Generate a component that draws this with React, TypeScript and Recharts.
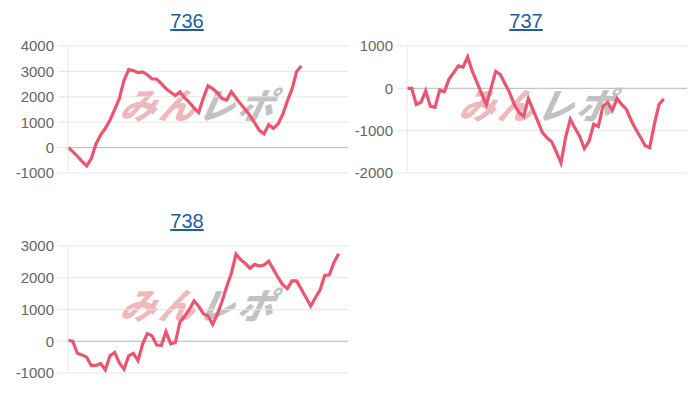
import { LineChart, Line, XAxis, YAxis, CartesianGrid, ReferenceLine } from "recharts";

// machine numbers shown above each chart
const machineNames = ["736", "737", "738"];

// cumulative difference per game slot
const diff736 = [
  0, -150, -340, -540, -720, -430, 150, 500, 760, 1080,
  1500, 1930, 2650, 3070, 3030, 2950, 2980, 2870, 2700, 2700,
  2520, 2320, 2180, 2050, 2190, 1960, 1780, 1560, 1380, 1950,
  2430, 2320, 2160, 1930, 1870, 2200, 1950, 1720, 1500, 1260,
  970, 680, 540, 900, 760, 930, 1300, 1830, 2300, 3000, 3210,
];
const diff737 = [
  0, 0, -380, -330, -60, -420, -450, -40, -80, 220,
  370, 530, 500, 740, 400, 140, -130, -390, 0, 400,
  330, 110, -100, -390, -570, -660, -240, -510, -770, -1040,
  -1170, -1260, -1500, -1760, -1150, -730, -940, -1130, -1420, -1250,
  -850, -900, -420, -330, -520, -240, -380, -490, -750, -960,
  -1150, -1350, -1400, -850, -380, -250,
];
const diff738 = [
  30, 0, -380, -430, -500, -770, -760, -700, -900, -460,
  -350, -680, -880, -460, -380, -610, -80, 240, 170, -120,
  -130, 300, -80, -40, 610, 790, 1000, 1270, 1100, 870,
  800, 530, 850, 1250, 1720, 2140, 2740, 2570, 2450, 2300,
  2420, 2370, 2400, 2520, 2270, 2010, 1780, 1660, 1900, 1900,
  1640, 1380, 1110, 1370, 1610, 2070, 2090, 2480, 2760,
];

// y-axis tick labels
const ticks736 = [-1000, 0, 1000, 2000, 3000, 4000];
const ticks737 = [-2000, -1000, 0, 1000];
const ticks738 = [-1000, 0, 1000, 2000, 3000];

// games on the x axis
const GAME_SLOTS = 60;

const FONT = '"Liberation Sans", Arial, sans-serif';
const LINE_COLOR = "#ec5470";

type PanelProps = {
  title: string;
  values: number[];
  ticks: number[];
  left: number;
  top: number;
  axisWidth: number;
};

const PLOT_W = 280;
const PLOT_TOP = 46;
const PLOT_H = 127;
const CHART_TOP = 30;
const CHART_H = 165;

const Panel = ({ title, values, ticks, left, top, axisWidth }: PanelProps) => {
  const data = values.map((v, i) => ({ game: i, diff: v }));
  const plotCx = axisWidth + PLOT_W / 2;
  const plotCy = PLOT_TOP + PLOT_H / 2;
  const mTop = PLOT_TOP - CHART_TOP;

  return (
    <div style={{ position: "absolute", left, top, width: 350, height: 200 }}>
      <div
        style={{
          position: "absolute",
          left: plotCx - 21 - 60,
          width: 120,
          top: 8,
          textAlign: "center",
          fontFamily: FONT,
          fontSize: 20,
          lineHeight: "26px",
          color: "#1d5f9f",
          textDecoration: "underline",
        }}
      >
        {title}
      </div>
      {/* watermark */}
      <div
        style={{
          position: "absolute",
          left: plotCx - 4 - 82,
          top: plotCy - 7 - 22,
          width: 164,
          height: 44,
          lineHeight: "44px",
          fontFamily: '"Noto Sans CJK JP", sans-serif',
          fontWeight: 900,
          fontStyle: "italic",
          fontSize: 36,
          letterSpacing: 3,
          whiteSpace: "nowrap",
          transform: "skewX(-12deg)",
        }}
      >
        <span style={{ color: "#edb9bd" }}>みん</span>
        <span style={{ color: "#c2c2c2" }}>レポ</span>
      </div>
      <div style={{ position: "absolute", left: 0, top: CHART_TOP }}>
        <LineChart
          width={axisWidth + PLOT_W + 2}
          height={CHART_H}
          data={data}
          margin={{ top: mTop, right: 2, bottom: CHART_H - mTop - PLOT_H, left: 0 }}
        >
          <CartesianGrid vertical={false} stroke="#e6e6e6" strokeWidth={1} />
          <XAxis dataKey="game" type="number" domain={[0, GAME_SLOTS]} hide />
          <YAxis
            width={axisWidth}
            domain={[ticks[0], ticks[ticks.length - 1]]}
            ticks={ticks}
            interval={0}
            tickSize={10}
            tickMargin={4}
            axisLine={{ stroke: "#e6e6e6" }}
            tickLine={{ stroke: "#e6e6e6" }}
            tick={{ fill: "#666", fontSize: 15, fontFamily: FONT }}
          />
          <ReferenceLine y={0} stroke="#bdbdbd" strokeWidth={1} />
          <Line
            type="linear"
            dataKey="diff"
            stroke={LINE_COLOR}
            strokeWidth={3.2}
            dot={false}
            isAnimationActive={false}
          />
        </LineChart>
      </div>
    </div>
  );
};

const App = () => {
  return (
    <div
      style={{
        position: "absolute",
        left: 0,
        top: 0,
        width: 700,
        height: 400,
        background: "#fff",
        overflow: "hidden",
      }}
    >
      <Panel title={machineNames[0]} values={diff736} ticks={ticks736} left={0} top={0} axisWidth={68} />
      <Panel title={machineNames[1]} values={diff737} ticks={ticks737} left={350} top={0} axisWidth={57} />
      <Panel title={machineNames[2]} values={diff738} ticks={ticks738} left={0} top={200} axisWidth={68} />
    </div>
  );
};

export default App;
